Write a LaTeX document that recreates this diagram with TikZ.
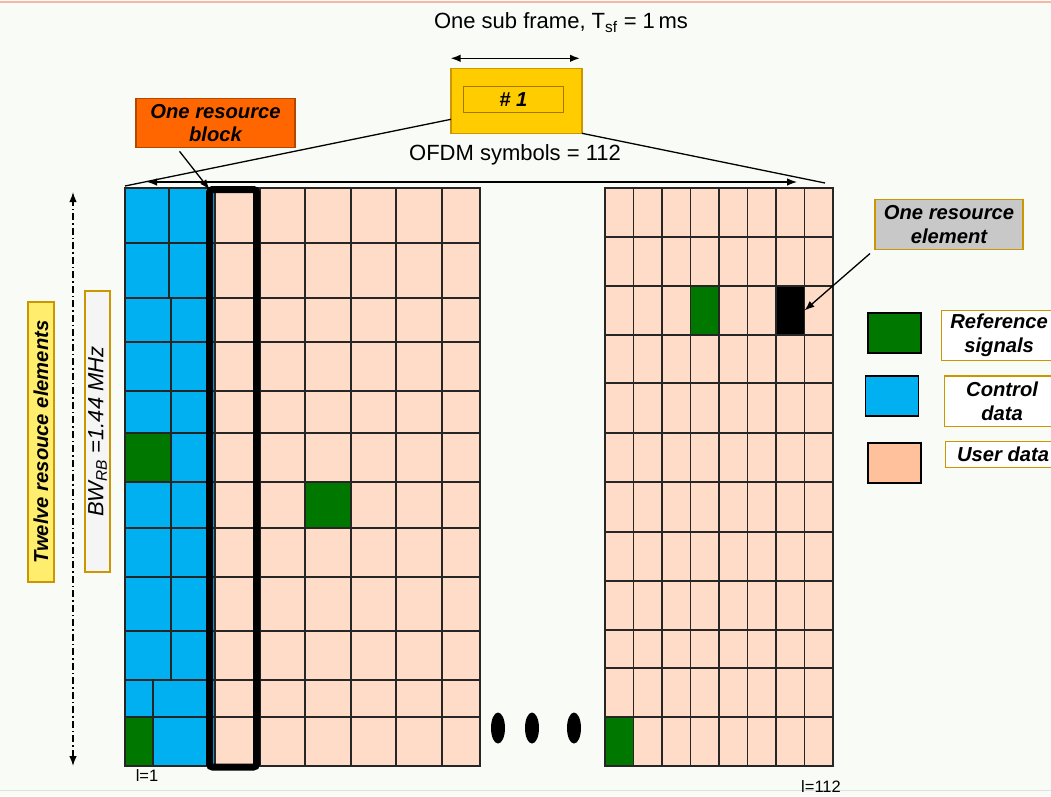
\documentclass[tikz,border=0pt]{standalone}
\usepackage{fontspec}
\setmainfont{Liberation Sans}
\usepackage{tikz}
\usetikzlibrary{arrows.meta,positioning,calc}

\definecolor{ctrlblue}{RGB}{0,176,240}
\definecolor{refgreen}{RGB}{0,120,0}
\definecolor{userpeach}{RGB}{255,220,200}
\definecolor{legpeach}{RGB}{255,192,156}
\definecolor{goldbox}{RGB}{255,204,0}
\definecolor{golddark}{RGB}{204,150,0}
\definecolor{orangebox}{RGB}{255,102,0}
\definecolor{greybox}{RGB}{200,200,200}
\definecolor{paleyellow}{RGB}{255,238,110}
\definecolor{paper}{RGB}{249,251,247}
\definecolor{topline}{RGB}{250,180,165}

\newcommand{\boxfont}{\fontsize{20.2}{23.5}\selectfont\bfseries\itshape}
\newcommand{\plainfont}{\fontsize{22}{25}\selectfont}

\begin{document}
\begin{tikzpicture}[x=1pt,y=-1pt,
		cell/.style={draw=black!85, line width=1.8pt},
		tip/.style={-{Latex[length=10pt,width=7.5pt]}},
		twotip/.style={{Latex[length=10pt,width=7.5pt]}-{Latex[length=10pt,width=7.5pt]}},
		bevel/.style={inner sep=0pt, outer sep=0pt, line width=1.5pt, align=center, font=\boxfont},
		legsq/.style={draw=black, line width=1.6pt, minimum width=53pt, minimum height=40pt, inner sep=0pt},
		legtxt/.style={draw=golddark, fill=white, line width=1.2pt, anchor=west, minimum width=115pt,
			align=center, inner sep=0pt, font=\boxfont}]
	
	% Page
	\useasboundingbox (0,0) rectangle (1051,796);
	\clip (0,0) rectangle (1051,796);
	\fill[paper] (0,0) rectangle (1051,796);
	\draw[topline, line width=2pt] (0,2) -- (1051,2);
	\draw[black!12, line width=1pt] (0,790) -- (1051,790);
	
	% Left block: control data and user data
	\foreach \t/\b/\s in {188/243/169,243/298/169,298/342/171,342/391/171,391/433/171,433/482/171,
		482/528/171,528/577/171,577/631/171,631/680/171,680/717/153,717/766/153} {
		\draw[cell, fill=ctrlblue] (125,\t) rectangle (\s,\b);
		\draw[cell, fill=ctrlblue] (\s,\t) rectangle (215,\b);
		\foreach \l/\r in {215/260,260/305,305/351,351/396,396/442,442/480} {
			\draw[cell, fill=userpeach] (\l,\t) rectangle (\r,\b);
		}
	}
	% Reference signals
	\draw[cell, fill=refgreen] (125,433) rectangle (171,482);
	\draw[cell, fill=refgreen] (305,482) rectangle (351,528);
	\draw[cell, fill=refgreen] (125,717) rectangle (153,766);
	
	% One resource block
	\node[draw, line width=7pt, rounded corners=3pt, inner sep=0pt, outer sep=0pt,
		minimum width=47pt, minimum height=577.5pt] (rb) at (233,478.25) {};
	
	% Right block
	\foreach \t/\b in {188/237,237/286,286/335,335/383,383/433,433/482,482/532,532/581,581/630,630/668,668/717,717/766} {
		\foreach \k in {0,...,7} {
			\draw[cell, fill=userpeach] ({605+28.5*\k},\t) rectangle ({605+28.5*(\k+1)},\b);
		}
	}
	\draw[cell, fill=refgreen] (690.5,286) rectangle (719,335);
	\draw[cell, fill=refgreen] (605,717) rectangle (633.5,766);
	\node[cell, fill=black, inner sep=0pt, outer sep=0pt, minimum width=28.5pt, minimum height=49pt] (re) at (790.25,310.5) {};
	
	% Dots between the blocks
	\foreach \x in {498,532,574} {
		\fill (\x,728) ellipse [x radius=7pt, y radius=15.5pt];
	}
	
	% Sub frame
	\node[font=\plainfont] (title) at (561,23) {One sub frame, T\textsubscript{sf} = 1\,ms};
	\node[bevel, draw=golddark, fill=goldbox, minimum width=131pt, minimum height=65pt] (sf) at (516.5,100.8) {};
	\node[bevel, draw=golddark!80!black, fill=goldbox, minimum width=100pt, minimum height=26pt] (sfin) at (513.3,99.7) {\# 1};
	\draw[twotip, line width=1.6pt] ([shift={(-0.5pt,10pt)}]sf.north west) -- ([shift={(-2pt,10pt)}]sf.north east);
	
	\coordinate (gl) at (125,186);
	\coordinate (gr) at (825,183);
	\draw[line width=1.3pt] ([yshift=14pt]sf.south west) -- (gl);
	\draw[line width=1.3pt] (sf.south east) -- (gr);
	
	% OFDM symbols
	\node[font=\plainfont] (ofdm) at (515,155) {OFDM symbols = 112};
	\coordinate (ofl) at (147,182);
	\coordinate (ofr) at (797,182);
	\draw[twotip, line width=1.3pt] (ofl) -- (ofr);
	
	% Callouts
	\node[bevel, draw=orangebox!70!black, fill=orangebox, minimum width=159pt, minimum height=49pt] (ob) at (215.5,122.8) {One resource\\block};
	\draw[tip, line width=1.3pt] ([shift={(-36pt,-4pt)}]ob.south) -- (rb.north west);
	
	\node[bevel, draw=golddark, fill=greybox, minimum width=148pt, minimum height=50pt] (reb) at (949,224.5) {One resource\\element};
	\draw[tip, line width=1.3pt] ([shift={(-5pt,-4pt)}]reb.south west) -- (re.east);
	
	% Frequency axis
	\coordinate (bwt) at (73,192);
	\coordinate (bwb) at (73,766);
	\draw[twotip, line width=1.4pt, dash pattern=on 7pt off 3pt on 1.5pt off 3pt] (bwb) -- (bwt);
	\node[bevel, rotate=90, draw=golddark, fill=paleyellow, minimum width=280pt, minimum height=26pt] (twelve) at (41,442) {Twelve resouce elements};
	\node[bevel, rotate=90, draw=golddark, fill=black!4, font=\plainfont\itshape\mdseries, minimum width=281pt, minimum height=25pt] (bw) at (97.5,431.5) {BW\textsubscript{RB} =1.44 MHz};
	
	% Legend
	\node[legsq, fill=refgreen] (lgref) at (894.5,333) {};
	\node[legsq, fill=ctrlblue] (lgctrl) at (892,396) {};
	\node[legsq, fill=legpeach] (lguser) at (894.5,463) {};
	\node[legtxt, minimum height=50pt] (txref) at (941,335.5) {Reference\\signals};
	\node[legtxt, minimum height=50.5pt] (txctrl) at (944,401.3) {Control\\data};
	\node[legtxt, minimum height=25.5pt] (txuser) at (945,454.5) {User data};
	
	% Symbol index
	\node[font=\fontsize{16.5}{18}\selectfont] (lfirst) at (147,776) {l=1};
	\node[font=\fontsize{16.5}{18}\selectfont] (llast) at (821,787) {l=112};
\end{tikzpicture}
\end{document}
